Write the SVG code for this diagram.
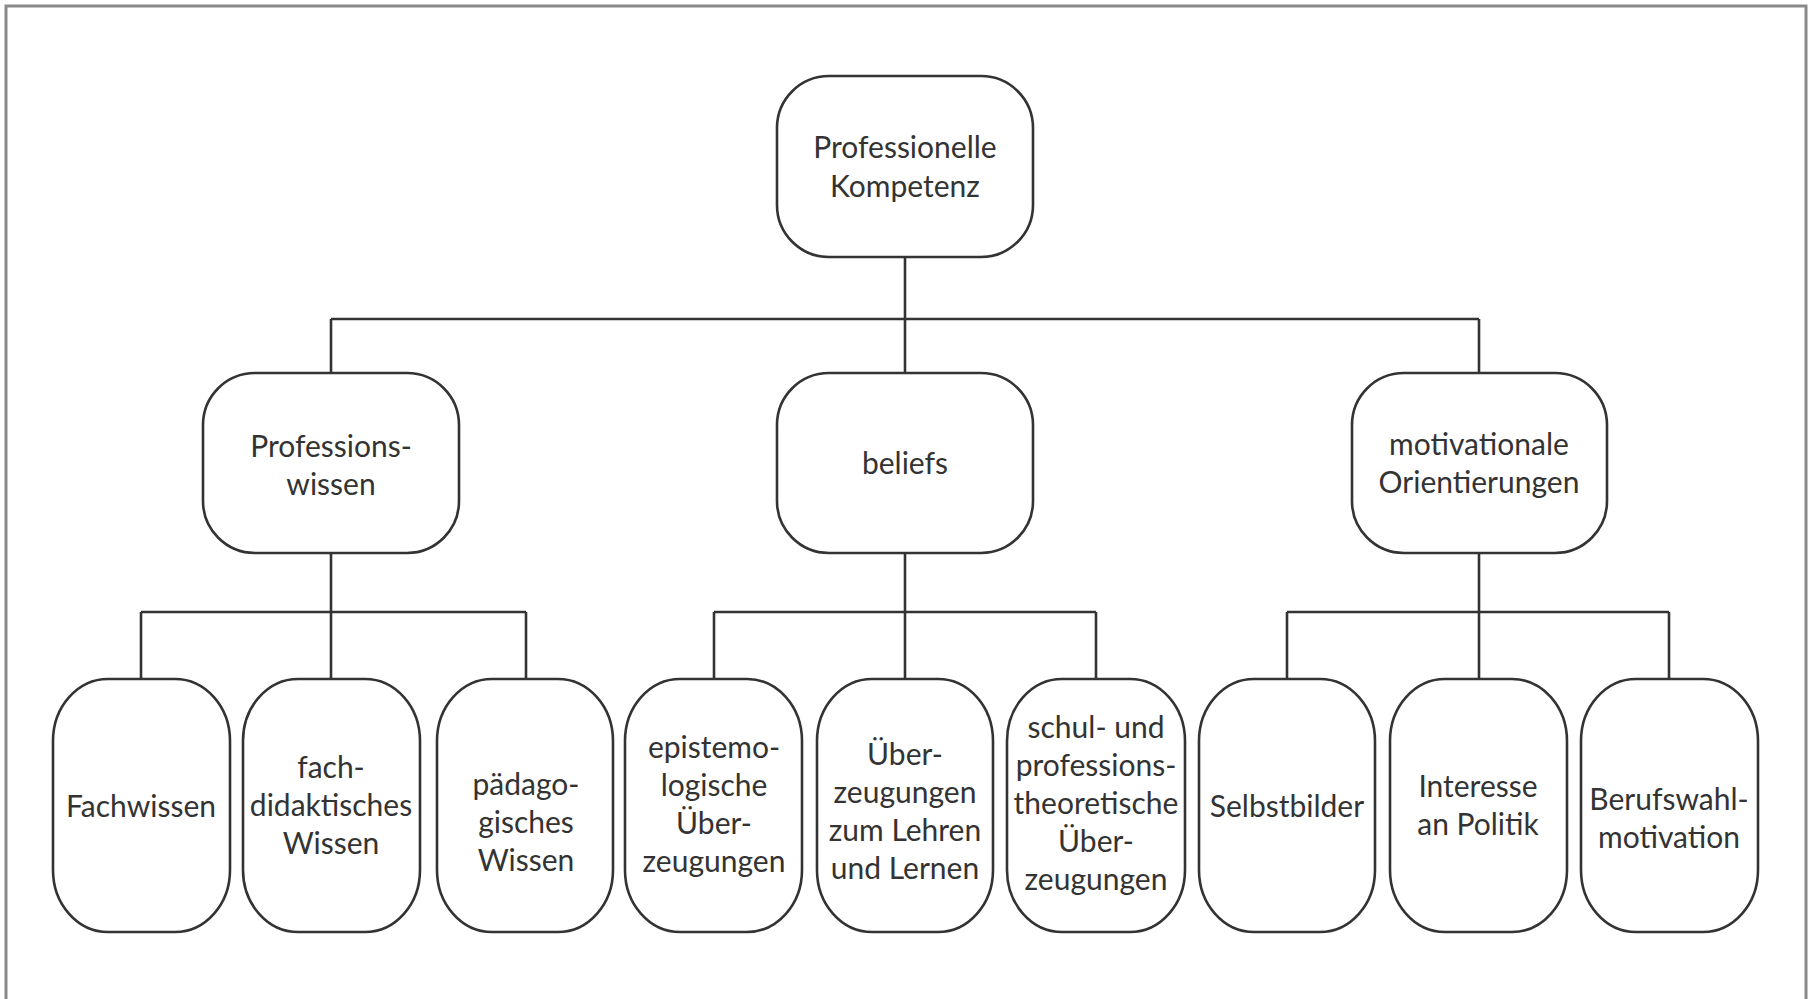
<svg xmlns="http://www.w3.org/2000/svg" width="1812" height="999" viewBox="0 0 1812 999">
<style>
.frame{fill:none;stroke:#8a8a8a;stroke-width:3}
.node rect{fill:#fff;stroke:#333;stroke-width:2.6}
.node text{font-family:Lato,"Liberation Sans",sans-serif;font-size:30px;fill:#333;text-anchor:middle}
#connectors path{fill:none;stroke:#333;stroke-width:2.6}
</style>
<rect x="0" y="0" width="1812" height="999" fill="#fff"/>
<rect class="frame" x="6" y="6" width="1800" height="1010"/>
<g id="connectors">
<path d="M905 257V319M331 319H1479M331 319V373M905 319V373M1479 319V373"/>
<path d="M331 553V612M141 612H526M141 612V679M331 612V679M526 612V679"/>
<path d="M905 553V612M714 612H1096M714 612V679M905 612V679M1096 612V679"/>
<path d="M1479 553V612M1287 612H1669M1287 612V679M1479 612V679M1669 612V679"/>
</g>
<g id="n-kompetenz" class="node"><rect x="777" y="76" width="256" height="181" rx="52"/><text x="905" y="158">Professionelle</text><text x="905" y="197">Kompetenz</text></g>
<g id="n-wissen" class="node"><rect x="203" y="373" width="256" height="180" rx="52"/><text x="331" y="457">Professions-</text><text x="331" y="495">wissen</text></g>
<g id="n-beliefs" class="node"><rect x="777" y="373" width="256" height="180" rx="52"/><text x="905" y="474">beliefs</text></g>
<g id="n-motiv" class="node"><rect x="1352" y="373" width="255" height="180" rx="52"/><text x="1479" y="455">motivationale</text><text x="1479" y="493">Orientierungen</text></g>
<g id="n-fach" class="node"><rect x="53" y="679" width="177" height="253" rx="55" ry="62"/><text x="141" y="817">Fachwissen</text></g>
<g id="n-fachdid" class="node"><rect x="243" y="679" width="177" height="253" rx="55" ry="62"/><text x="331" y="778">fach-</text><text x="331" y="816">didaktisches</text><text x="331" y="854">Wissen</text></g>
<g id="n-paed" class="node"><rect x="437" y="679" width="176" height="253" rx="55" ry="62"/><text x="526" y="795">pädago-</text><text x="526" y="833">gisches</text><text x="526" y="871">Wissen</text></g>
<g id="n-epist" class="node"><rect x="625" y="679" width="177" height="253" rx="55" ry="62"/><text x="714" y="758">epistemo-</text><text x="714" y="796">logische</text><text x="714" y="834">Über-</text><text x="714" y="872">zeugungen</text></g>
<g id="n-lehren" class="node"><rect x="817" y="679" width="176" height="253" rx="55" ry="62"/><text x="905" y="765">Über-</text><text x="905" y="803">zeugungen</text><text x="905" y="841">zum Lehren</text><text x="905" y="879">und Lernen</text></g>
<g id="n-schul" class="node"><rect x="1007" y="679" width="178" height="253" rx="55" ry="62"/><text x="1096" y="738">schul- und</text><text x="1096" y="776">professions-</text><text x="1096" y="814">theoretische</text><text x="1096" y="852">Über-</text><text x="1096" y="890">zeugungen</text></g>
<g id="n-selbst" class="node"><rect x="1199" y="679" width="176" height="253" rx="55" ry="62"/><text x="1287" y="817">Selbstbilder</text></g>
<g id="n-interesse" class="node"><rect x="1390" y="679" width="177" height="253" rx="55" ry="62"/><text x="1478" y="797">Interesse</text><text x="1478" y="835">an Politik</text></g>
<g id="n-beruf" class="node"><rect x="1581" y="679" width="177" height="253" rx="55" ry="62"/><text x="1669" y="810">Berufswahl-</text><text x="1669" y="848">motivation</text></g>
</svg>
